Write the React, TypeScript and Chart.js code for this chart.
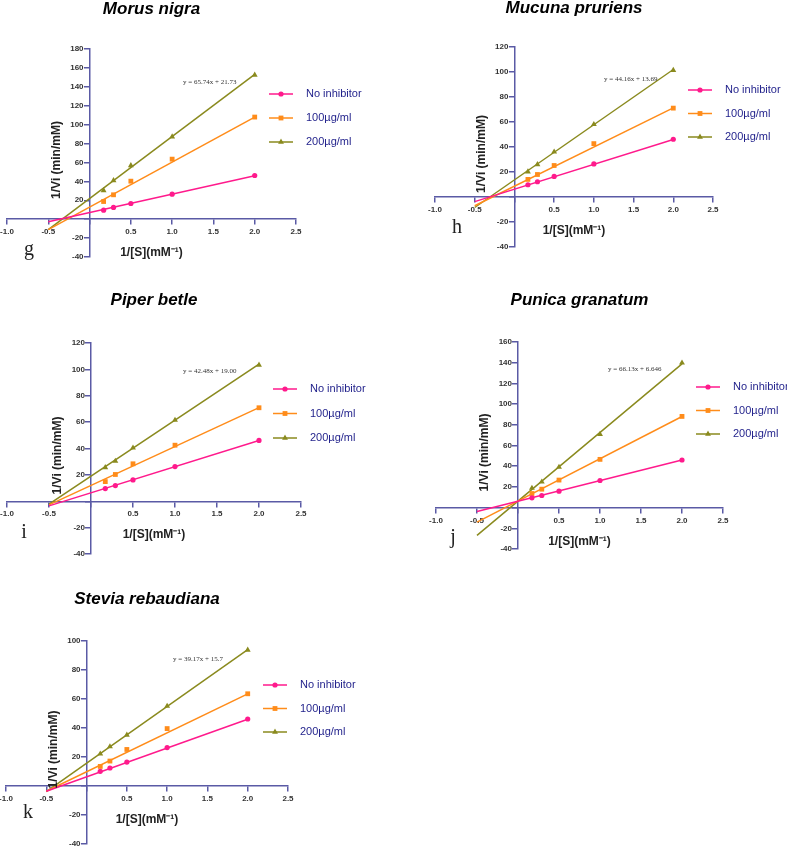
import React, { useEffect, useRef } from 'react';
import { Chart, registerables } from 'chart.js';

Chart.register(...registerables);

// ---------- DATA ----------
const xValues = [0.17, 0.29, 0.5, 1.0, 2.0];
const fitX = [-0.5, 2.0];
const seriesNames = ['No inhibitor', '100µg/ml', '200µg/ml'];
const xTickValues = [-1.0, -0.5, 0.5, 1.0, 1.5, 2.0, 2.5];

// Morus nigra (g)
const morusNoInhibitor = [9.5, 12.4, 16.6, 26.5, 46.2];
const morus100 = [18.7, 25.8, 40.2, 63.5, 108];
const morus200 = [30.4, 40.9, 56.8, 87.2, 152.5];
const morusFitNoInhibitor = [-2.8, 46];
const morusFit100 = [-11, 108];
const morusFit200 = [-11.1, 153.2];

// Mucuna pruriens (h)
const mucunaNoInhibitor = [9.8, 12.2, 16.5, 26.5, 46.2];
const mucuna100 = [14.1, 18.0, 25.2, 42.7, 71.1];
const mucuna200 = [20.2, 26.0, 36.1, 58.1, 101.4];
const mucunaFitNoInhibitor = [-3.7, 46];
const mucunaFit100 = [-7, 71.3];
const mucunaFit200 = [-8.4, 102];

// Piper betle (i)
const piperNoInhibitor = [9.6, 11.9, 16.2, 26.3, 46.1];
const piper100 = [14.9, 20.3, 28.4, 42.5, 70.9];
const piper200 = [25.6, 30.4, 40.5, 61.5, 103.3];
const piperFitNoInhibitor = [-3.5, 46];
const piperFit100 = [-2.8, 71];
const piperFit200 = [-2.2, 104];

// Punica granatum (j)
const punicaNoInhibitor = [9.4, 11.7, 15.9, 26.2, 46.0];
const punica100 = [13.6, 17.8, 26.6, 46.6, 88.1];
const punica200 = [18.8, 24.9, 39.2, 70.9, 139.9];
const punicaFitNoInhibitor = [-3.8, 46];
const punicaFit100 = [-14, 88];
const punicaFit200 = [-26.8, 138.9];

// Stevia rebaudiana (k)
const steviaNoInhibitor = [10.1, 12.4, 16.5, 26.5, 46.2];
const stevia100 = [13.5, 17.2, 25.2, 39.6, 63.6];
const stevia200 = [22.2, 27.2, 35.2, 55.1, 93.8];
const steviaFitNoInhibitor = [-3.6, 46];
const steviaFit100 = [-3.6, 63.5];
const steviaFit200 = [-3.9, 94];

const panelTitles = ['Morus nigra', 'Mucuna pruriens', 'Piper betle', 'Punica granatum', 'Stevia rebaudiana'];
const panelLetters = ['g', 'h', 'i', 'j', 'k'];
const panelEquations = ['y = 65.74x + 21.73', 'y = 44.16x + 13.69', 'y = 42.48x + 19.00', 'y = 66.13x + 6.646', 'y = 39.17x + 15.7'];
const panelYMin = [-40, -40, -40, -40, -40];
const panelYMax = [180, 120, 120, 160, 100];

const xTitle = '1/[S](mM⁻¹)';
const yTitle = '1/Vi (min/mM)';

// ---------- STYLE ----------
const colors = ['#ff1a8c', '#ff8c1a', '#8a8a1e'];
const markers = ['circle', 'rect', 'triangle'];
const markerRadius = [2.6, 3.4, 3.4];
const axisColor = '#5a5aa5';
const FONT = "'Liberation Sans', Arial, sans-serif";
const SERIF = "'Liberation Serif', 'Times New Roman', serif";

type PanelStyle = {
  chartLeft: number; chartRight: number; chartTop: number; chartBottom: number;
  titleY: number; legendX: number; legendY: number; legendGap: number;
  eqX: number; eqY: number; letterX: number; letterY: number;
};

const styles: PanelStyle[] = [
  { chartLeft: 7, chartRight: 296, chartTop: 49, chartBottom: 257, titleY: 9, legendX: 269, legendY: 94, legendGap: 24, eqX: 183, eqY: 82, letterX: 29, letterY: 250 },
  { chartLeft: 435, chartRight: 713, chartTop: 47, chartBottom: 247, titleY: 8, legendX: 688, legendY: 90, legendGap: 23.5, eqX: 604, eqY: 79, letterX: 457, letterY: 228 },
  { chartLeft: 7, chartRight: 301, chartTop: 343, chartBottom: 554, titleY: 300, legendX: 273, legendY: 389, legendGap: 24.5, eqX: 183, eqY: 371, letterX: 24, letterY: 533 },
  { chartLeft: 436, chartRight: 723, chartTop: 342, chartBottom: 549, titleY: 300, legendX: 696, legendY: 387, legendGap: 23.5, eqX: 608, eqY: 369, letterX: 453, letterY: 538 },
  { chartLeft: 6, chartRight: 288, chartTop: 641, chartBottom: 844, titleY: 599, legendX: 263, legendY: 685, legendGap: 23.5, eqX: 173, eqY: 659, letterX: 28, letterY: 813 },
];

const panelSeries = [
  [morusNoInhibitor, morus100, morus200],
  [mucunaNoInhibitor, mucuna100, mucuna200],
  [piperNoInhibitor, piper100, piper200],
  [punicaNoInhibitor, punica100, punica200],
  [steviaNoInhibitor, stevia100, stevia200],
];
const panelFits = [
  [morusFitNoInhibitor, morusFit100, morusFit200],
  [mucunaFitNoInhibitor, mucunaFit100, mucunaFit200],
  [piperFitNoInhibitor, piperFit100, piperFit200],
  [punicaFitNoInhibitor, punicaFit100, punicaFit200],
  [steviaFitNoInhibitor, steviaFit100, steviaFit200],
];

const PAD_L = 40, PAD_R = 130, PAD_T = 25, PAD_B = 30;
const Y_LABEL_GAP = 6;

function drawMarker(ctx: CanvasRenderingContext2D, style: string, x: number, y: number, r: number, color: string) {
  ctx.save();
  ctx.fillStyle = color;
  ctx.beginPath();
  if (style === 'circle') {
    ctx.arc(x, y, r, 0, Math.PI * 2);
  } else if (style === 'rect') {
    const s = r * Math.SQRT1_2;
    ctx.rect(x - s, y - s, 2 * s, 2 * s);
  } else {
    const h = r * 1.5;
    const w = r * Math.sqrt(3) / 2;
    ctx.moveTo(x, y - r);
    ctx.lineTo(x + w, y + h - r);
    ctx.lineTo(x - w, y + h - r);
    ctx.closePath();
  }
  ctx.fill();
  ctx.restore();
}

function Panel({ idx }: { idx: number }) {
  const ref = useRef<HTMLCanvasElement>(null);
  const s = styles[idx];
  const cLeft = s.chartLeft - PAD_L;
  const cTop = s.titleY - PAD_T;
  const cW = s.chartRight + PAD_R - cLeft;
  const cH = s.chartBottom + PAD_B - cTop;

  useEffect(() => {
    const canvas = ref.current!;
    const lh = 17 * 1.2;
    const datasets: any[] = [];
    panelSeries[idx].forEach((vals, i) => {
      datasets.push({
        label: seriesNames[i],
        data: xValues.map((x, j) => ({ x, y: vals[j] })),
        pointStyle: markers[i],
        pointRadius: markerRadius[i],
        pointHoverRadius: markerRadius[i],
        backgroundColor: colors[i],
        borderColor: colors[i],
        borderWidth: 0,
        showLine: false,
        order: 0,
      });
    });
    panelFits[idx].forEach((vals, i) => {
      datasets.push({
        label: seriesNames[i] + ' fit',
        data: fitX.map((x, j) => ({ x, y: vals[j] })),
        borderColor: colors[i],
        backgroundColor: colors[i],
        borderWidth: 1.5,
        pointRadius: 0,
        showLine: true,
        order: 1,
      });
    });

    const decor = {
      id: 'decor' + idx,
      beforeDraw(chart: any) {
        // push y tick labels off the axis line (left of the tick marks)
        const ys = chart.scales.y;
        const x0 = chart.scales.x.getPixelForValue(0);
        const items = ys.getLabelItems();
        items.forEach((it: any) => {
          if (it.options && it.options.translation) {
            it.options.translation[0] = x0 - Y_LABEL_GAP;
            it.options.textAlign = 'right';
          }
        });
      },
      afterDraw(chart: any) {
        const ctx: CanvasRenderingContext2D = chart.ctx;
        const area = chart.chartArea;
        const x0 = chart.scales.x.getPixelForValue(0);
        // y-axis title
        ctx.save();
        ctx.translate(x0 - 33, (area.top + area.bottom) / 2 + 7);
        ctx.rotate(-Math.PI / 2);
        ctx.font = `bold 12px ${FONT}`;
        ctx.fillStyle = '#222';
        ctx.textAlign = 'center';
        ctx.textBaseline = 'middle';
        ctx.fillText(yTitle, 0, 0);
        ctx.restore();
        // equation
        ctx.save();
        ctx.font = `7px ${SERIF}`;
        ctx.fillStyle = '#333';
        ctx.textAlign = 'left';
        ctx.textBaseline = 'middle';
        ctx.fillText(panelEquations[idx], s.eqX - cLeft, s.eqY - cTop);
        ctx.restore();
        // panel letter
        ctx.save();
        ctx.font = `20px ${SERIF}`;
        ctx.fillStyle = '#222';
        ctx.textAlign = 'center';
        ctx.textBaseline = 'middle';
        ctx.fillText(panelLetters[idx], s.letterX - cLeft, s.letterY - cTop);
        ctx.restore();
        // legend
        for (let i = 0; i < 3; i++) {
          const ly = s.legendY - cTop + i * s.legendGap;
          const lx = s.legendX - cLeft;
          ctx.save();
          ctx.strokeStyle = colors[i];
          ctx.lineWidth = 1.5;
          ctx.beginPath();
          ctx.moveTo(lx, ly);
          ctx.lineTo(lx + 24, ly);
          ctx.stroke();
          ctx.restore();
          drawMarker(ctx, markers[i], lx + 12, ly, markerRadius[i], colors[i]);
          ctx.save();
          ctx.font = `11px ${FONT}`;
          ctx.fillStyle = '#1f1f8a';
          ctx.textAlign = 'left';
          ctx.textBaseline = 'middle';
          ctx.fillText(seriesNames[i], lx + 37, ly);
          ctx.restore();
        }
      },
    };

    const tickFont = { family: FONT, size: 8, weight: 'bold' as const };
    const chart = new Chart(canvas, {
      type: 'scatter',
      data: { datasets },
      plugins: [decor],
      options: {
        animation: false,
        responsive: false,
        devicePixelRatio: 1,
        layout: { padding: { left: PAD_L, right: PAD_R, top: 0, bottom: PAD_B } },
        plugins: {
          legend: { display: false },
          tooltip: { enabled: false },
          title: {
            display: true,
            text: panelTitles[idx],
            color: '#000',
            font: { family: FONT, size: 17, weight: 'bold', style: 'italic' },
            padding: { top: PAD_T - lh / 2, bottom: s.chartTop - s.titleY - lh / 2 },
          },
        },
        scales: {
          x: {
            type: 'linear',
            min: -1,
            max: 2.5,
            position: { y: 0 } as any,
            afterBuildTicks: (scale: any) => {
              scale.ticks = [-1, -0.5, 0, 0.5, 1, 1.5, 2, 2.5].map((v) => ({ value: v }));
            },
            ticks: {
              autoSkip: false,
              maxRotation: 0,
              padding: 3,
              color: '#333',
              font: tickFont,
              callback: (v: any) => (Number(v) === 0 ? '' : (xTickValues.indexOf(Number(v)) >= 0 ? Number(v).toFixed(1) : '')),
            },
            grid: { drawOnChartArea: false, drawTicks: true, tickLength: 5, color: axisColor, lineWidth: 1.5 },
            border: { display: true, color: axisColor, width: 1.5 },
            title: {
              display: true,
              text: xTitle,
              color: '#222',
              font: { family: FONT, size: 12, weight: 'bold' },
              padding: { top: 6, bottom: 0 },
            },
          },
          y: {
            type: 'linear',
            min: panelYMin[idx],
            max: panelYMax[idx],
            position: { x: 0 } as any,
            ticks: {
              stepSize: 20,
              autoSkip: false,
              padding: 2,
              color: '#333',
              font: tickFont,
              callback: (v: any) => (Number(v) === 0 ? '' : String(v)),
            },
            grid: { drawOnChartArea: false, drawTicks: true, tickLength: 5, color: axisColor, lineWidth: 1.5 },
            border: { display: true, color: axisColor, width: 1.5 },
          },
        },
      } as any,
    });
    return () => chart.destroy();
  }, [idx]);

  return (
    <canvas
      ref={ref}
      width={cW}
      height={cH}
      style={{ position: 'absolute', left: cLeft, top: cTop, width: cW, height: cH }}
    />
  );
}

export default function App() {
  return (
    <div style={{ position: 'absolute', left: 0, top: 0, width: 787, height: 847, overflow: 'hidden', background: '#fff' }}>
      {[0, 1, 2, 3, 4].map((i) => (
        <Panel key={i} idx={i} />
      ))}
    </div>
  );
}
